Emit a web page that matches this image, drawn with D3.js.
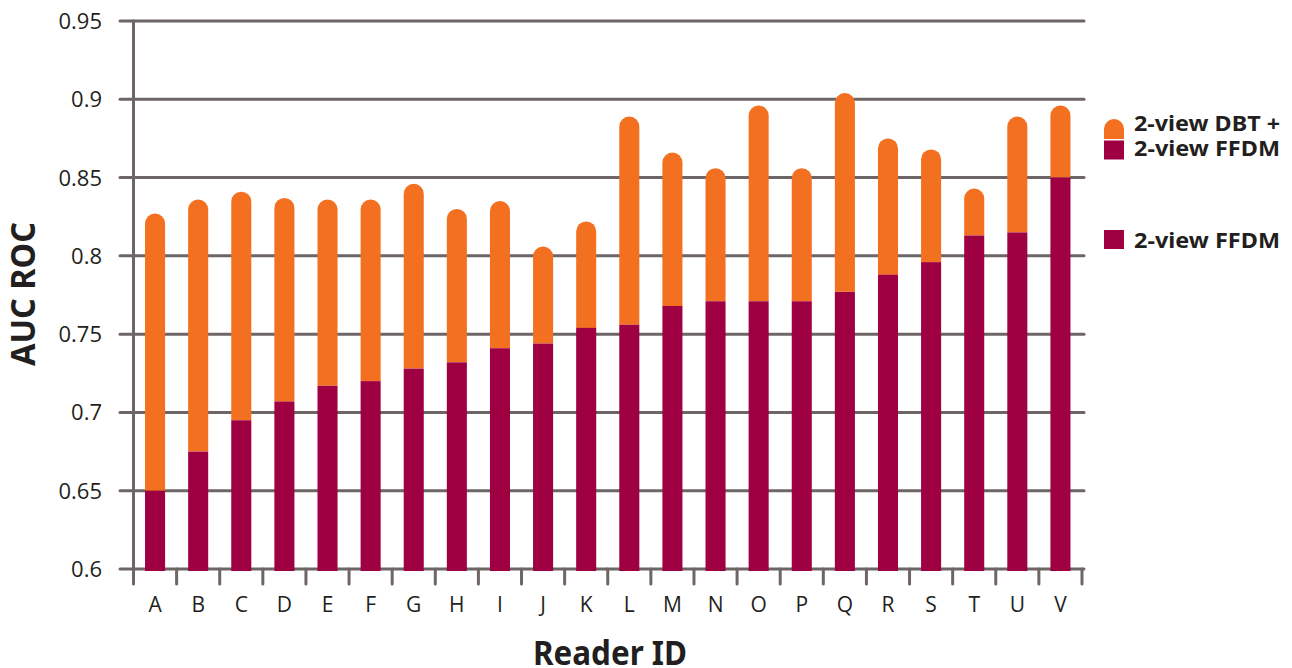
<!DOCTYPE html>
<html>
<head>
<meta charset="utf-8">
<script src="https://cdn.jsdelivr.net/npm/d3@7"></script>
<style>
  body { margin: 0; background: #fff; }
  svg text { fill: #231f20; }
</style>
</head>
<body>
<script>
// reader ids along the x axis
var readers = ['A','B','C','D','E','F','G','H','I','J','K',
               'L','M','N','O','P','Q','R','S','T','U','V'];

// AUC with 2-view FFDM only (lower, crimson part)
var ffdm = [0.650, 0.675, 0.695, 0.707, 0.717, 0.720, 0.728, 0.732, 0.741, 0.744, 0.754,
            0.756, 0.768, 0.771, 0.771, 0.771, 0.777, 0.788, 0.796, 0.813, 0.815, 0.850];

// AUC with 2-view DBT + 2-view FFDM (top of the orange part)
var dbtFfdm = [0.827, 0.836, 0.841, 0.837, 0.836, 0.836, 0.846, 0.830, 0.835, 0.806, 0.822,
               0.889, 0.866, 0.856, 0.896, 0.856, 0.904, 0.875, 0.868, 0.843, 0.889, 0.896];

var yTicks = [0.6, 0.65, 0.7, 0.75, 0.8, 0.85, 0.9, 0.95];
var yTickLabels = ['0.6', '0.65', '0.7', '0.75', '0.8', '0.85', '0.9', '0.95'];

var legendLabels = [['2-view DBT +', '2-view FFDM'], ['2-view FFDM']];

var orange = '#f37021',
    crimson = '#9e0041',
    grey = '#6d6566';

var svg = d3.select('body')
    .append('svg')
    .attr('width', 1292)
    .attr('height', 668);

// scales
var y = d3.scaleLinear()
    .domain([0.6, 0.95])
    .range([569, 21]);

var x = d3.scaleBand()
    .domain(readers)
    .range([133.5, 1082])
    .paddingInner(0.535)
    .paddingOuter(0.2675);

var step = x.step();

// horizontal grid lines (with a little tick sticking out left)
svg.append('g')
    .selectAll('line')
    .data(yTicks)
    .enter()
    .append('line')
    .attr('x1', 120)
    .attr('x2', 1084)
    .attr('y1', function(d){ return y(d); })
    .attr('y2', function(d){ return y(d); })
    .attr('stroke', grey)
    .attr('stroke-width', 3)
    .attr('stroke-linecap', 'round');

// y axis line
svg.append('line')
    .attr('x1', 133.5).attr('x2', 133.5)
    .attr('y1', y(0.95)).attr('y2', 584)
    .attr('stroke', grey)
    .attr('stroke-width', 3)
    .attr('stroke-linecap', 'round');

// x ticks at band boundaries
var boundaries = readers.map(function(d){ return x(d) - step * x.paddingInner() / 2; });
boundaries.push(boundaries[boundaries.length - 1] + step);
svg.append('g')
    .selectAll('line')
    .data(boundaries.slice(1))
    .enter()
    .append('line')
    .attr('x1', function(d){ return d; })
    .attr('x2', function(d){ return d; })
    .attr('y1', y(0.6))
    .attr('y2', 584)
    .attr('stroke', grey)
    .attr('stroke-width', 3)
    .attr('stroke-linecap', 'round');

// y tick labels
svg.append('g')
    .selectAll('text')
    .data(yTicks)
    .enter()
    .append('text')
    .attr('x', 102)
    .attr('y', function(d){ return y(d) + 8; })
    .attr('text-anchor', 'end')
    .attr('font-family', 'Open Sans')
    .attr('font-size', 22)
    .text(function(d, i){ return yTickLabels[i]; });

// x tick labels
svg.append('g')
    .selectAll('text')
    .data(readers)
    .enter()
    .append('text')
    .attr('x', function(d){ return x(d) + x.bandwidth() / 2; })
    .attr('y', 612)
    .attr('text-anchor', 'middle')
    .attr('font-family', 'Open Sans')
    .attr('font-size', 21)
    .text(function(d){ return d; });

// orange part: from ffdm value up to the top, rounded cap
var w = x.bandwidth(), r = w / 2;
function capPath(x0, yTop, yBottom) {
    return 'M' + x0 + ',' + yBottom +
        'V' + (yTop + r) +
        'A' + r + ',' + r + ' 0 0 1 ' + (x0 + w) + ',' + (yTop + r) +
        'V' + yBottom + 'Z';
}

svg.append('g')
    .selectAll('path')
    .data(readers)
    .enter()
    .append('path')
    .attr('d', function(d, i){ return capPath(x(d), y(dbtFfdm[i]), y(ffdm[i])); })
    .attr('fill', orange);

// crimson part
svg.append('g')
    .selectAll('rect')
    .data(readers)
    .enter()
    .append('rect')
    .attr('x', function(d){ return x(d); })
    .attr('y', function(d, i){ return y(ffdm[i]); })
    .attr('width', w)
    .attr('height', function(d, i){ return y(0.6) - y(ffdm[i]) + 2; })
    .attr('fill', crimson);

// axis titles
svg.append('text')
    .attr('transform', 'translate(35,294) rotate(-90)')
    .attr('text-anchor', 'middle')
    .attr('font-family', 'Noto Sans')
    .attr('font-weight', 'bold')
    .attr('font-size', 34)
    .attr('textLength', 144)
    .attr('lengthAdjust', 'spacingAndGlyphs')
    .text('AUC ROC');

svg.append('text')
    .attr('x', 610)
    .attr('y', 665)
    .attr('text-anchor', 'middle')
    .attr('font-family', 'Noto Sans')
    .attr('font-weight', 'bold')
    .attr('font-size', 34)
    .attr('textLength', 154)
    .attr('lengthAdjust', 'spacingAndGlyphs')
    .text('Reader ID');

// legend
var lg = svg.append('g');
lg.append('path')
    .attr('d', 'M1104,139V129A10,10 0 0 1 1124,129V139Z')
    .attr('fill', orange);
lg.append('rect')
    .attr('x', 1104).attr('y', 140.5)
    .attr('width', 20).attr('height', 19)
    .attr('fill', crimson);
lg.append('rect')
    .attr('x', 1104).attr('y', 230)
    .attr('width', 20).attr('height', 19)
    .attr('fill', crimson);

lg.selectAll('text.a')
    .data(legendLabels[0])
    .enter()
    .append('text')
    .attr('x', 1134)
    .attr('y', function(d, i){ return 131 + i * 25; })
    .attr('font-family', 'Noto Sans')
    .attr('font-weight', 'bold')
    .attr('font-size', 21)
    .attr('textLength', 146)
    .attr('lengthAdjust', 'spacingAndGlyphs')
    .text(function(d){ return d; });

lg.append('text')
    .attr('x', 1134)
    .attr('y', 248)
    .attr('font-family', 'Noto Sans')
    .attr('font-weight', 'bold')
    .attr('font-size', 21)
    .attr('textLength', 146)
    .attr('lengthAdjust', 'spacingAndGlyphs')
    .text(legendLabels[1][0]);
</script>
</body>
</html>
